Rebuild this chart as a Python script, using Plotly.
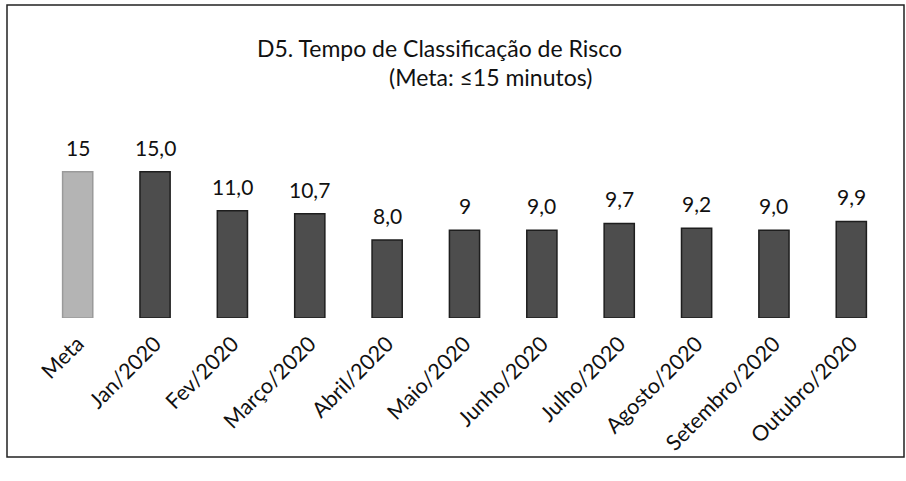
import plotly.graph_objects as go

categories = ["Meta", "Jan/2020", "Fev/2020", "Março/2020", "Abril/2020", "Maio/2020",
              "Junho/2020", "Julho/2020", "Agosto/2020", "Setembro/2020", "Outubro/2020"]
values = [15, 15.0, 11.0, 10.7, 8.0, 9, 9.0, 9.7, 9.2, 9.0, 9.9]
value_labels = ["15", "15,0", "11,0", "10,7", "8,0", "9", "9,0", "9,7", "9,2", "9,0", "9,9"]
title_line1 = "D5. Tempo de Classificação de Risco"
title_line2 = "(Meta: ≤15 minutos)"

colors = ["#b4b4b4"] + ["#4d4d4d"] * (len(categories) - 1)
line_colors = ["#9a9a9a"] + ["#1e1e1e"] * (len(categories) - 1)

W, H = 906, 481
font = "Lato, 'Open Sans', sans-serif"

fig = go.Figure(go.Bar(
    x=categories, y=values,
    marker=dict(color=colors, line=dict(color=line_colors, width=1.5)),
    width=0.39,
))

# page-pixel positions of plot area
x0, x1 = 39, 890
ytop, ybot = 162, 318


def px_x(p):
    return (p - x0) / (x1 - x0)


def px_y(p):
    return (ybot - p) / (ybot - ytop)


annotations = [
    dict(text=title_line1, x=px_x(439), y=px_y(48), xref="paper", yref="paper",
         xanchor="center", yanchor="middle",
         showarrow=False, font=dict(size=23, family=font, color="#111")),
    dict(text=title_line2, x=px_x(491), y=px_y(77), xref="paper", yref="paper",
         xanchor="center", yanchor="middle",
         showarrow=False, font=dict(size=23, family=font, color="#111")),
]
for c, v, t in zip(categories, values, value_labels):
    annotations.append(dict(x=c, y=v, text=t, xref="x", yref="y", showarrow=False,
                            yanchor="bottom", yshift=10,
                            font=dict(size=21, family=font, color="#111")))

fig.update_layout(
    width=W, height=H,
    paper_bgcolor="white", plot_bgcolor="white",
    margin=dict(l=x0, r=W - x1, t=ytop, b=H - ybot, autoexpand=False),
    showlegend=False,
    font=dict(family=font, color="#111"),
    xaxis=dict(tickangle=-45, tickfont=dict(size=21.5, family=font, color="#111"),
               showline=False, showgrid=False, ticks="", automargin=False,
               ticklabelstandoff=8),
    yaxis=dict(range=[0, 16], visible=False, showgrid=False, automargin=False),
    shapes=[dict(type="rect", xref="paper", yref="paper",
                 x0=px_x(7), x1=px_x(904), y0=px_y(457), y1=px_y(5),
                 line=dict(color="#222", width=1.5))],
    annotations=annotations,
)

fig.write_html("out.html", config={"displayModeBar": False},
               post_script="document.body.style.margin='0';document.body.style.overflow='hidden';")
